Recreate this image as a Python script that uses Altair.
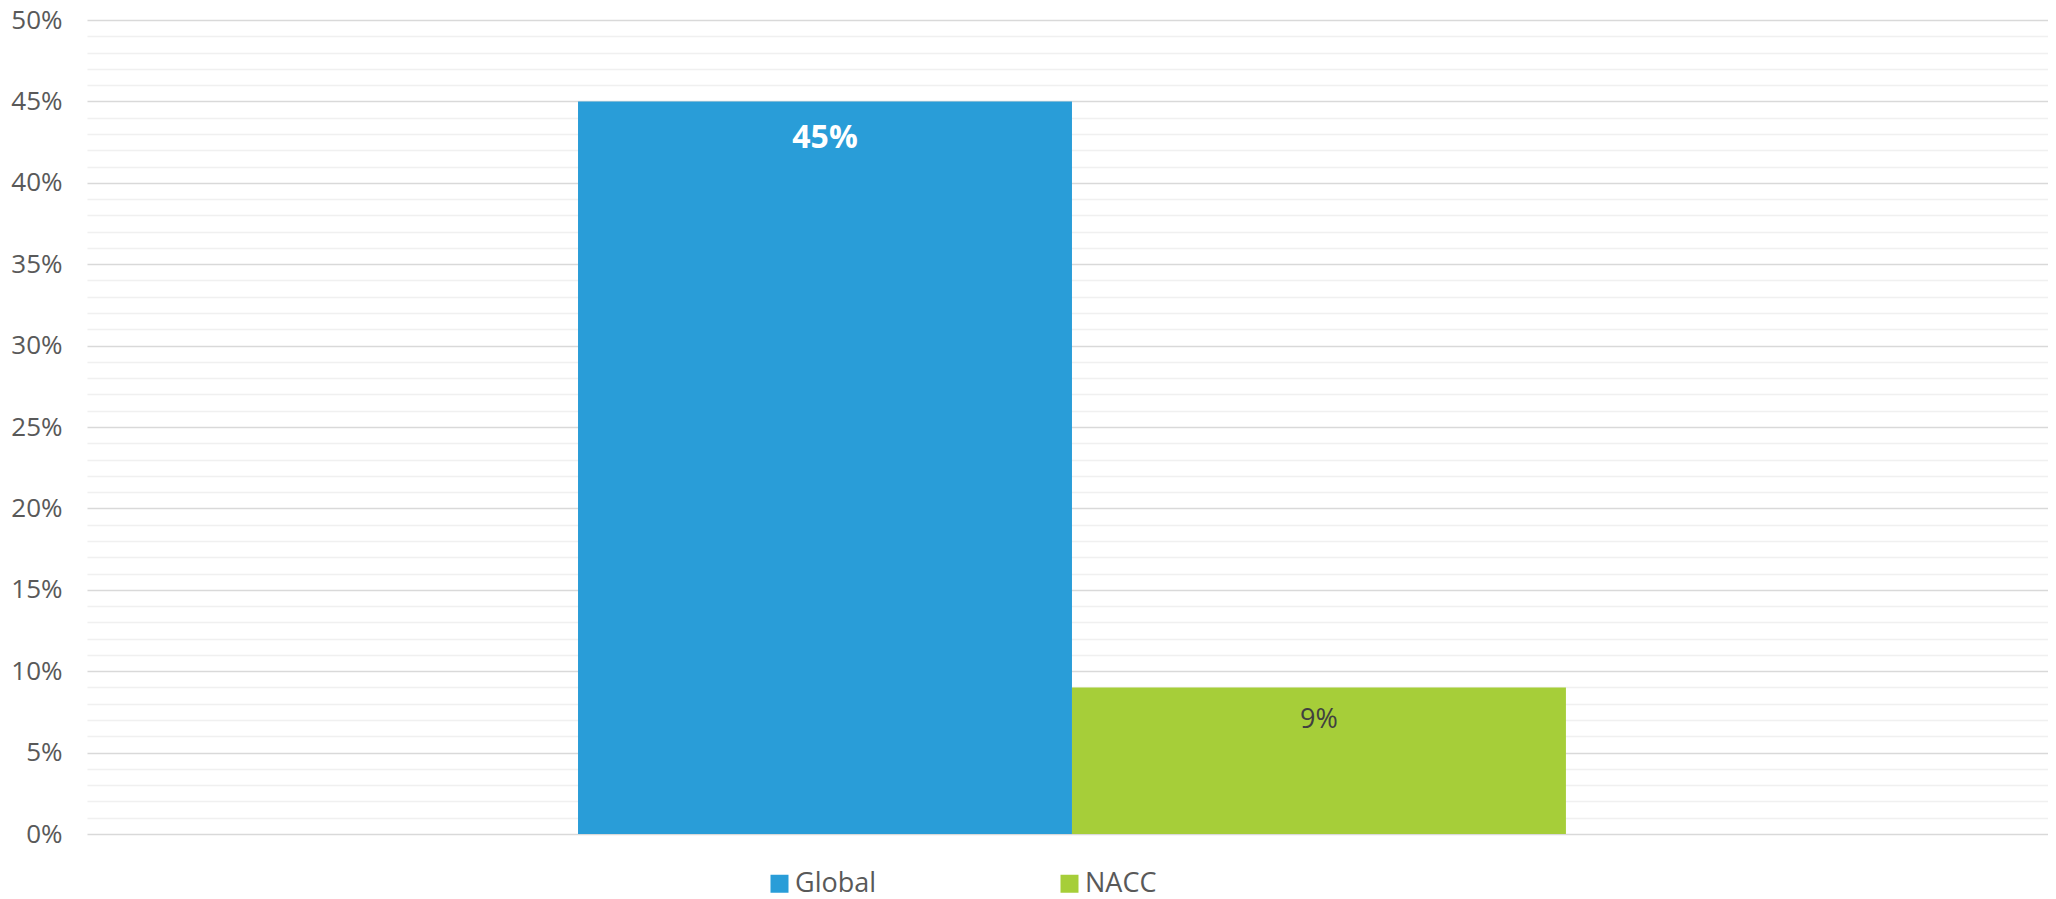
import altair as alt
import pandas as pd

series = ["Global", "NACC"]
values = [0.45, 0.09]
colors = ["#299dd8", "#a6ce39"]
y_ticks = [i / 100 for i in range(0, 51)]

df = pd.DataFrame({"series": series, "value": values})

FONT = "Open Sans"

y_axis = alt.Axis(
    values=y_ticks,
    format=".0%",
    labelExpr="round(datum.value*100) % 5 === 0 ? datum.label : ''",
    labelFont=FONT,
    labelFontSize=26,
    labelColor="#595959",
    labelPadding=25,
    ticks=False,
    domain=False,
    title=None,
    grid=True,
    gridColor={"condition": {"test": "round(datum.value*100) % 5 === 0", "value": "#d9d9d9"}, "value": "#f0f0f0"},
    gridWidth=1.5,
)

base = alt.Chart(df).encode(
    x=alt.X("series:N", sort=series,
            scale=alt.Scale(paddingInner=0, paddingOuter=0.985, align=0.5046),
            axis=None),
    y=alt.Y("value:Q", scale=alt.Scale(domain=[0, 0.5], nice=False), axis=y_axis),
)

bars = base.mark_bar().encode(
    color=alt.Color(
        "series:N",
        sort=series,
        scale=alt.Scale(domain=series, range=colors),
        legend=alt.Legend(
            title=None,
            orient="none",
            direction="horizontal",
            columns=2,
            legendX=679,
            legendY=850,
            symbolType="square",
            symbolSize=324,
            symbolStrokeWidth=0,
            symbolOpacity=1,
            labelFont=FONT,
            labelFontSize=27,
            labelColor="#595959",
            labelOffset=2,
            columnPadding=179,
        ),
    )
)

text_global = base.transform_filter(alt.datum.series == "Global").mark_text(
    font=FONT, fontSize=32, fontWeight="bold", color="#ffffff",
    baseline="middle", dy=37,
).encode(text=alt.Text("value:Q", format=".0%"))

text_nacc = base.transform_filter(alt.datum.series == "NACC").mark_text(
    font=FONT, fontSize=27, color="#404040",
    baseline="middle", dy=33,
).encode(text=alt.Text("value:Q", format=".0%"))

chart = (
    alt.layer(bars, text_global, text_nacc)
    .properties(
        width=1961,
        height=814,
        autosize=alt.AutoSizeParams(type="none"),
        padding={"left": 79, "top": 12, "right": 0, "bottom": 68},
        background="#ffffff",
    )
    .configure_view(stroke=None)
)

chart.save("out.html", embed_options={"renderer": "svg", "actions": False})
